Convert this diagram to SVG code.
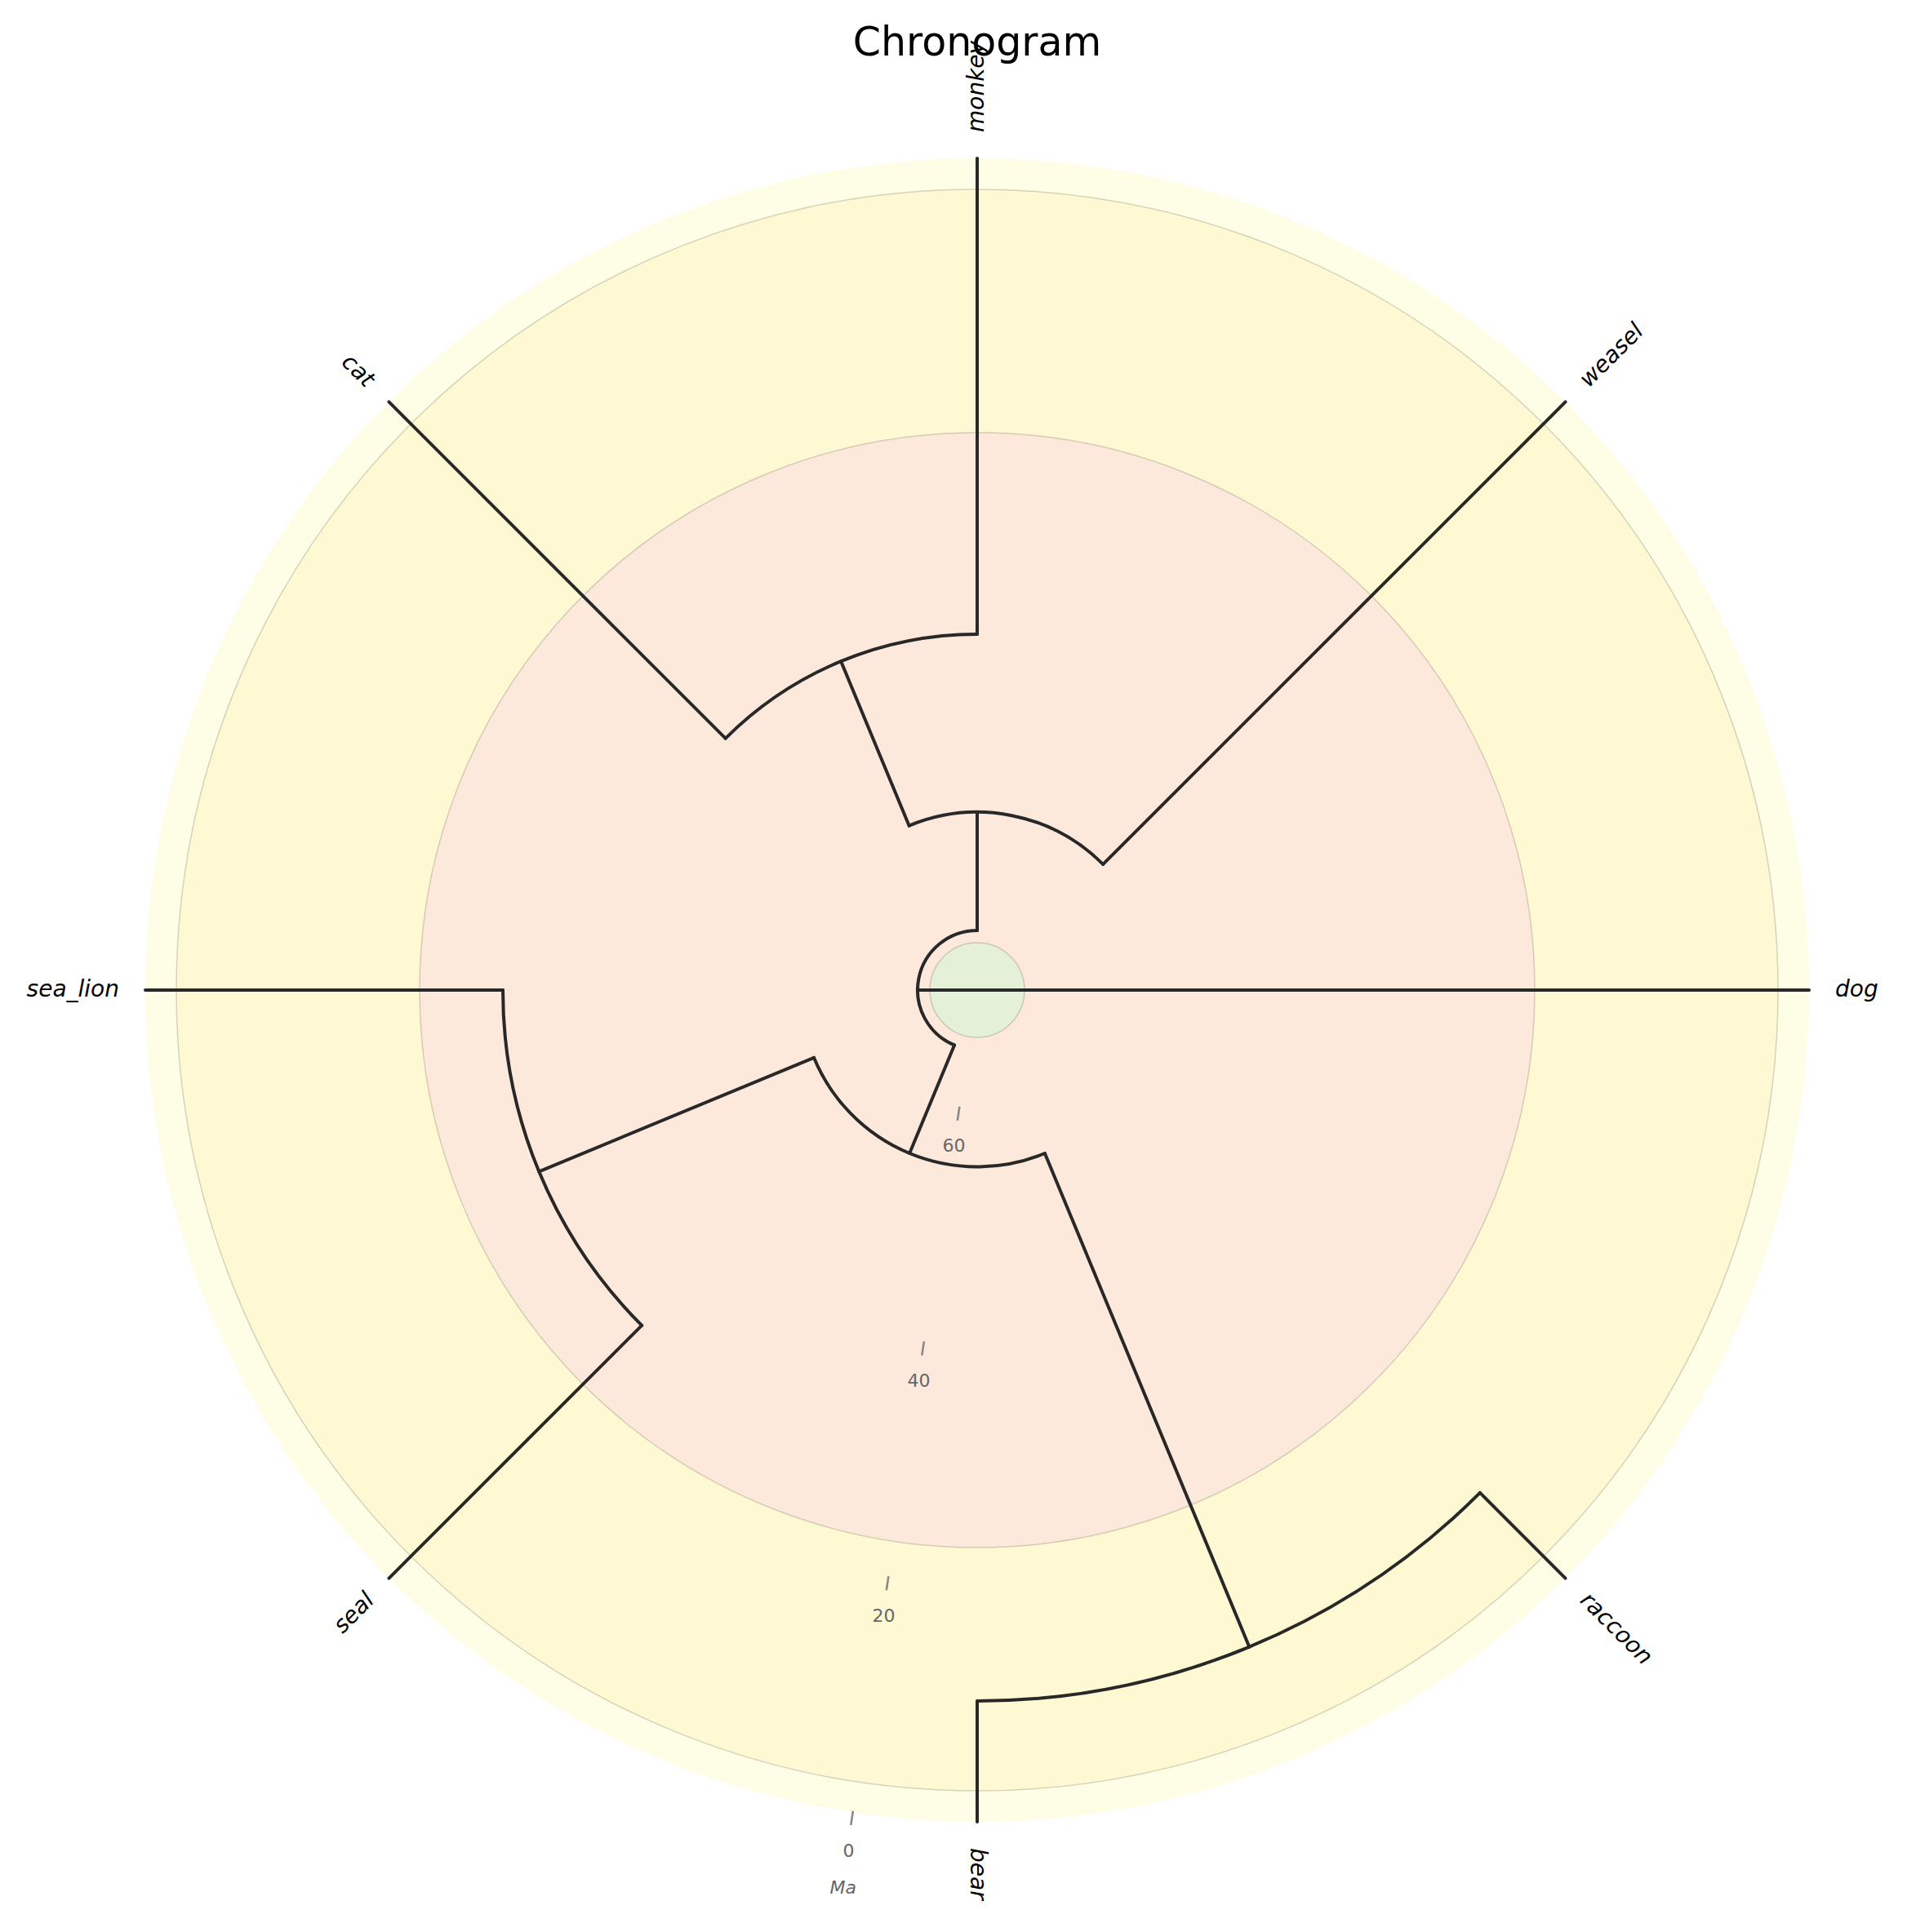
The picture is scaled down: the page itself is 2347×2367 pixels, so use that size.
<svg xmlns="http://www.w3.org/2000/svg" width="2347" height="2367" viewBox="0 0 2347 2367">
<style>
.br{fill:none;stroke:#282828;stroke-width:4;stroke-linecap:round;stroke-linejoin:miter}
.lab{font-family:"DejaVu Sans",sans-serif;font-style:italic;font-size:28px;fill:#000}
.tk{font-family:"DejaVu Sans",sans-serif;font-size:22px;fill:#666;text-anchor:middle}
.tick{stroke:#8a8a8a;stroke-width:2.6;stroke-linecap:butt}
.disc{stroke:#000;stroke-opacity:0.16;stroke-width:1.5}
</style>
<rect width="2347" height="2367" fill="#ffffff"/>
<g id="time-periods">
<circle cx="1197" cy="1213" r="1019" fill="#fefde6"/>
<circle class="disc" cx="1197" cy="1213" r="981" fill="#fef9d3"/>
<circle class="disc" cx="1197" cy="1213" r="683" fill="#fde9dc"/>
<circle class="disc" cx="1197" cy="1213" r="58" fill="#e4f1d8"/>
</g>
<g id="time-axis">
<line class="tick" x1="1044.9" y1="2218.8" x2="1042.3" y2="2236.1"/>
<text class="tk" x="1039.5" y="2274.7">0</text>
<line class="tick" x1="1088.4" y1="1931.1" x2="1085.8" y2="1948.3"/>
<text class="tk" x="1082.5" y="1986.9">20</text>
<line class="tick" x1="1131.9" y1="1643.4" x2="1129.3" y2="1660.6"/>
<text class="tk" x="1125.6" y="1699.1">40</text>
<line class="tick" x1="1175.4" y1="1355.7" x2="1172.8" y2="1372.9"/>
<text class="tk" x="1168.6" y="1411.3">60</text>
<text class="tk" x="1032.7" y="2319.7" font-style="italic">Ma</text>
</g>
<g id="connectors">
<path class="br" d="M 1124 1213 L 2216 1213"/>
<path class="br" d="M 1197 1140 A 73 73 0 0 0 1169.06 1280.44"/>
<path class="br" d="M 1197 1140 L 1197 995"/>
<path class="br" d="M 1351.15 1058.85 A 218 218 0 0 0 1113.57 1011.59"/>
<path class="br" d="M 1351.15 1058.85 L 1917.54 492.46"/>
<path class="br" d="M 1113.57 1011.59 L 1030.15 810.19"/>
<path class="br" d="M 1197 777 A 436 436 0 0 0 888.70 904.70"/>
<path class="br" d="M 1197 777 L 1197 194"/>
<path class="br" d="M 888.70 904.70 L 476.46 492.46"/>
<path class="br" d="M 1169.06 1280.44 L 1114.15 1413.02"/>
<path class="br" d="M 996.98 1295.85 A 216.5 216.5 0 0 0 1279.85 1413.02"/>
<path class="br" d="M 996.98 1295.85 L 660.23 1435.34"/>
<path class="br" d="M 616 1213 A 581 581 0 0 0 786.17 1623.83"/>
<path class="br" d="M 616 1213 L 178 1213"/>
<path class="br" d="M 786.17 1623.83 L 476.46 1933.54"/>
<path class="br" d="M 1279.85 1413.02 L 1530.32 2017.70"/>
<path class="br" d="M 1197 2084 A 871 871 0 0 0 1812.89 1828.89"/>
<path class="br" d="M 1197 2084 L 1197 2232"/>
<path class="br" d="M 1812.89 1828.89 L 1917.54 1933.54"/>
</g>
<g id="dog"><text class="lab" x="2248" y="1213" dy="0.3em">dog</text></g>
<g id="weasel"><text class="lab" transform="translate(1940.17 469.83) rotate(-45)" dy="0.3em">weasel</text></g>
<g id="monkey"><text class="lab" transform="translate(1197 162) rotate(-90)" dy="0.3em">monkey</text></g>
<g id="cat"><text class="lab" text-anchor="end" transform="translate(453.83 469.83) rotate(45)" dy="0.3em">cat</text></g>
<g id="sea_lion"><text class="lab" text-anchor="end" x="146" y="1213" dy="0.3em">sea_lion</text></g>
<g id="seal"><text class="lab" text-anchor="end" transform="translate(453.83 1956.17) rotate(-45)" dy="0.3em">seal</text></g>
<g id="bear"><text class="lab" transform="translate(1197 2264) rotate(90)" dy="0.3em">bear</text></g>
<g id="raccoon"><text class="lab" transform="translate(1940.17 1956.17) rotate(45)" dy="0.3em">raccoon</text></g>
<g id="title"><text x="1197" y="68" text-anchor="middle" font-family="DejaVu Sans, sans-serif" font-size="49" fill="#000">Chronogram</text></g>
</svg>
